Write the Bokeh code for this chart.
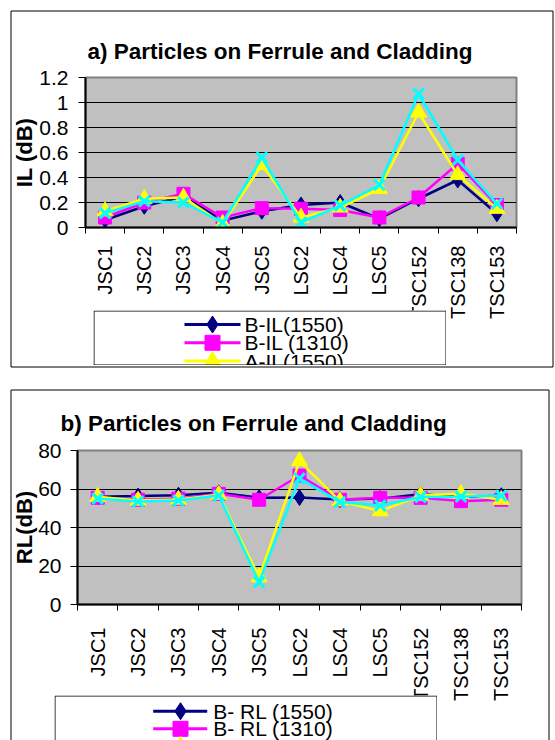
import math
from bokeh.plotting import figure
from bokeh.models import Range1d, FixedTicker
from bokeh.core.properties import value
from bokeh.layouts import column
from bokeh.embed import file_html
from bokeh.resources import INLINE

CATEGORIES = ["JSC1", "JSC2", "JSC3", "JSC4", "JSC5", "LSC2", "LSC4", "LSC5",
              "TSC152", "TSC138", "TSC153"]

IL_TITLE = "a) Particles on Ferrule and Cladding"
IL_YLABEL = "IL (dB)"
IL_LABELS = ["B-IL(1550)", "B-IL (1310)", "A-IL(1550)", "A-IL (1310)"]
IL_B1550 = [0.06, 0.17, 0.25, 0.055, 0.13, 0.18, 0.20, 0.07, 0.23, 0.38, 0.11]
IL_B1310 = [0.08, 0.20, 0.27, 0.08, 0.155, 0.15, 0.14, 0.08, 0.24, 0.51, 0.18]
IL_A1550 = [0.13, 0.23, 0.24, 0.03, 0.50, 0.08, 0.16, 0.31, 0.92, 0.42, 0.15]
IL_A1310 = [0.115, 0.21, 0.20, 0.04, 0.56, 0.04, 0.175, 0.34, 1.07, 0.54, 0.19]
IL_TICKS = [0, 0.2, 0.4, 0.6, 0.8, 1.0, 1.2]
IL_TICK_LABELS = ["0", "0.2", "0.4", "0.6", "0.8", "1", "1.2"]

RL_TITLE = "b) Particles on Ferrule and Cladding"
RL_YLABEL = "RL(dB)"
RL_LABELS = ["B- RL (1550)", "B- RL (1310)", "A- RL (1550)", "A- RL (1310)"]
RL_B1550 = [56, 56.3, 56.8, 58, 55.5, 55.6, 54.5, 55, 57.3, 55.8, 56.5]
RL_B1310 = [55.4, 54.4, 55, 57.5, 54.4, 67, 54.4, 55.4, 55.4, 53.7, 54.4]
RL_A1550 = [56, 54, 54.5, 57, 14.2, 74.5, 53.7, 48.5, 56.6, 57.5, 54.4]
RL_A1310 = [55, 53.5, 54, 56.6, 11.6, 65.5, 53.2, 51.4, 55.8, 56, 56.6]
RL_TICKS = [0, 20, 40, 60, 80]
RL_TICK_LABELS = ["0", "20", "40", "60", "80"]

FONT = "Liberation Sans"
COLORS = ["#000080", "#FF00FF", "#FFFF00", "#00FFFF"]
MARKERS = ["diamond", "square", "triangle", "x"]
MSIZES = [16, 13, 16, 15]
LEG_MSIZES = [17, 15, 17, 15]


def add_marker(f, xs, ys, mk, size, col):
    if mk == "x":
        return f.scatter(xs, ys, marker=mk, size=size, line_color=col, line_width=3)
    return f.scatter(xs, ys, marker=mk, size=size, fill_color=col, line_color=col)


def pixel_fig(W, H, margin):
    f = figure(width=W, height=H, output_backend="svg", toolbar_location=None,
               x_range=Range1d(0, W), y_range=Range1d(H, 0), min_border=0,
               x_axis_location=None, y_axis_location=None, title=None,
               margin=margin, frame_align=False)
    f.outline_line_color = None
    f.background_fill_color = "white"
    f.border_fill_color = "white"
    f.grid.visible = False
    return f


def box_fig(W, H, margin, edges):
    f = pixel_fig(W, H, margin)
    l, t, r, b = edges
    f.quad(left=[l], right=[r], top=[t], bottom=[b], fill_alpha=0,
           line_color="black", line_width=1)
    return f


def legend_fig(W, H, margin, labels, g):
    f = pixel_fig(W, H, margin)
    n = len(labels)
    ys = [g["y0"] + i * g["pitch"] for i in range(n)]
    for i in range(n):
        f.segment(x0=[g["x0"]], x1=[g["x1"]], y0=[ys[i]], y1=[ys[i]],
                  line_color=COLORS[i], line_width=3)
        add_marker(f, [g["xm"]], [ys[i]], MARKERS[i], LEG_MSIZES[i], COLORS[i])
    f.text(x=[g["xt"]] * n, y=ys, text=labels, text_font=value(FONT),
           text_font_size="21px", text_baseline="middle", text_align="left",
           text_color="black")
    f.quad(left=[0.5], right=[W - 0.5], top=[0.5], bottom=[g["bottom"]],
           fill_alpha=0, line_color="black", line_width=1)
    return f


def plot_fig(title, ylabel, series, yticks, yticklabels, g, margin):
    W, H, L, T, R, B = g["canvas"]
    xs = [i + 0.5 for i in range(len(CATEGORIES))]
    p = figure(width=W, height=H, output_backend="svg", toolbar_location=None,
               x_range=Range1d(0, len(CATEGORIES)),
               y_range=Range1d(yticks[0], yticks[-1]),
               min_border_left=L, min_border_top=T,
               min_border_right=W - R, min_border_bottom=H - B, margin=margin,
               frame_align=False)
    p.background_fill_color = "#C0C0C0"
    p.border_fill_alpha = 0
    p.outline_line_color = "#808080"
    p.outline_line_width = 2

    p.title.text = title
    p.title.text_font = FONT
    p.title.text_font_style = "bold"
    p.title.text_font_size = "22.5px"
    p.title.text_color = "black"
    p.title.align = "left"
    p.title.offset = g["title_offset"]
    p.title.standoff = g["title_standoff"]

    xa = p.xaxis[0]
    xa.ticker = FixedTicker(ticks=xs, minor_ticks=list(range(len(CATEGORIES) + 1)))
    xa.major_label_overrides = {x: c for x, c in zip(xs, CATEGORIES)}
    xa.major_tick_out = 0
    xa.major_tick_in = 0
    xa.minor_tick_out = 6
    xa.minor_tick_in = 0
    xa.minor_tick_line_color = "black"
    xa.axis_line_color = "black"
    xa.axis_line_width = 2
    xa.major_label_orientation = math.pi / 2
    xa.major_label_text_font = FONT
    xa.major_label_text_font_size = "20px"
    xa.major_label_text_color = "black"
    xa.major_label_standoff = g["xstandoff"]

    ya = p.yaxis[0]
    ya.ticker = FixedTicker(ticks=yticks)
    ya.major_label_overrides = dict(zip(yticks, yticklabels))
    ya.major_tick_out = 7
    ya.major_tick_in = 0
    ya.minor_tick_out = 0
    ya.minor_tick_in = 0
    ya.major_tick_line_color = "black"
    ya.axis_line_color = "black"
    ya.axis_line_width = 2
    ya.major_label_text_font = FONT
    ya.major_label_text_font_size = "21px"
    ya.major_label_text_color = "black"
    ya.major_label_standoff = g["ystandoff"]
    ya.axis_label = ylabel
    ya.axis_label_text_font = FONT
    ya.axis_label_text_font_style = "bold"
    ya.axis_label_text_font_size = "22px"
    ya.axis_label_text_color = "black"
    ya.axis_label_standoff = g["ylabel_standoff"]

    p.xgrid.visible = False
    p.ygrid[0].ticker = FixedTicker(ticks=yticks[1:-1])
    p.ygrid.grid_line_color = "black"
    p.ygrid.grid_line_width = 1

    for vals, col, mk, ms in zip(series, COLORS, MARKERS, MSIZES):
        p.line(xs, vals, line_color=col, line_width=2.5)
        add_marker(p, xs, vals, mk, ms, col)
    return p


# ---- top panel (page rows 0..378) ----
g1 = dict(canvas=(555, 378, 85, 77, 516, 227), title_offset=2, title_standoff=27,
          xstandoff=12, ystandoff=10, ylabel_standoff=-1)
box1 = box_fig(555, 378, (0, 0, 0, 0), (10.5, 10.5, 552.5, 366.5))
plot1 = plot_fig(IL_TITLE, IL_YLABEL, [IL_B1550, IL_B1310, IL_A1550, IL_A1310],
                 IL_TICKS, IL_TICK_LABELS, g1, (-378, 0, 0, 0))
leg1 = legend_fig(353, 55, (-68, 0, 0, 93), IL_LABELS,
                  dict(x0=91, x1=147, xm=119, xt=151, y0=14, pitch=18.3, bottom=54.5))

# ---- bottom panel (page rows 378..740) ----
g2 = dict(canvas=(555, 362, 77, 72, 521, 226), title_offset=-17, title_standoff=29,
          xstandoff=17, ystandoff=9, ylabel_standoff=-2)
box2 = box_fig(555, 362, (13, 0, 0, 0), (10.5, 11.5, 548.5, 400))
plot2 = plot_fig(RL_TITLE, RL_YLABEL, [RL_B1550, RL_B1310, RL_A1550, RL_A1310],
                 RL_TICKS, RL_TICK_LABELS, g2, (-362, 0, 0, 0))
leg2 = legend_fig(383, 45, (-45, 0, 0, 54), RL_LABELS,
                  dict(x0=98.7, x1=152.7, xm=126, xt=158.7, y0=15.7, pitch=17.6, bottom=80))

layout = column(box1, plot1, leg1, box2, plot2, leg2, spacing=0)
open("out.html", "w").write(file_html(layout, INLINE))
